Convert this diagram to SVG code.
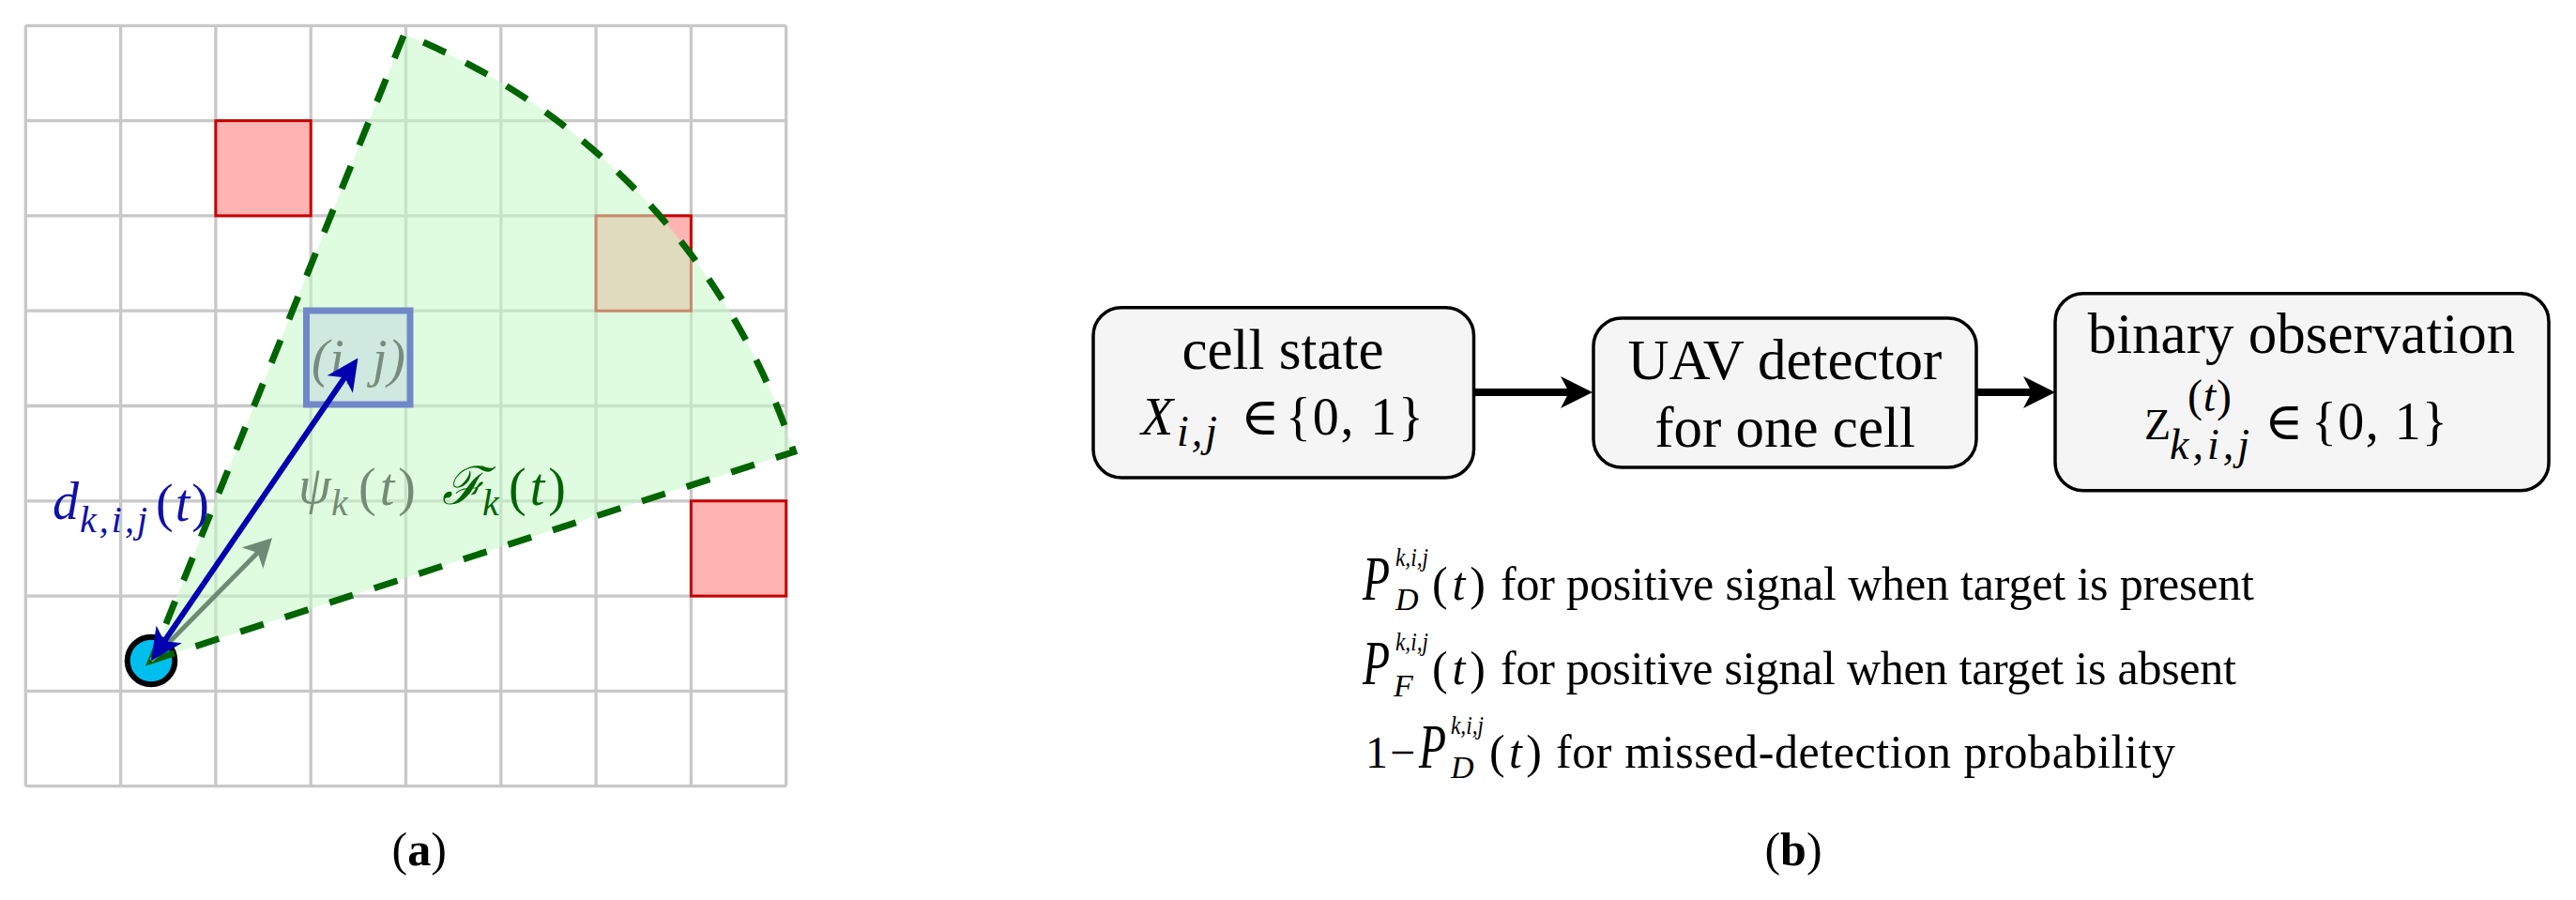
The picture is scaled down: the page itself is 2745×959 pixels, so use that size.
<svg xmlns="http://www.w3.org/2000/svg" width="2745" height="959" viewBox="0 0 2745 959">
  <style>
    .grid line { stroke: #c8c8c8; stroke-width: 3.3; }
    .red { fill: #ffb4b4; stroke: #c80000; stroke-width: 3; }
    .t { font-family: "Liberation Serif", "DejaVu Serif", serif; }
    .it { font-style: italic; }
    .box { fill: #f5f5f5; stroke: #000; stroke-width: 3.5; }
    .conn { stroke: #000; stroke-width: 8; fill: none; }
  </style>
  <defs>
    <marker id="arrBlack" markerUnits="userSpaceOnUse" viewBox="0 -17 34 34" markerWidth="34" markerHeight="34" refX="14" refY="0" orient="auto">
      <path d="M0,-17 L34,0 L0,17 L9,0 Z" fill="#000"/>
    </marker>
    <marker id="arrBlue" markerUnits="userSpaceOnUse" viewBox="0 -16.5 34 33" markerWidth="34" markerHeight="33" refX="14" refY="0" orient="auto-start-reverse">
      <path d="M0,-16.5 L34,0 L0,16.5 L9,0 Z" fill="#0000b0"/>
    </marker>
    <marker id="arrGray" markerUnits="userSpaceOnUse" viewBox="0 -16 30 32" markerWidth="30" markerHeight="32" refX="12" refY="0" orient="auto">
      <path d="M0,-16 L30,0 L0,16 L8,0 Z" fill="#6e8a74"/>
    </marker>
  </defs>
  <rect width="2745" height="959" fill="#fff"/>

  <!-- Panel (a) -->
  <g id="grid" class="grid">
    <line x1="27.3" y1="27.3" x2="27.3" y2="837.7"/>
    <line x1="128.6" y1="27.3" x2="128.6" y2="837.7"/>
    <line x1="229.9" y1="27.3" x2="229.9" y2="837.7"/>
    <line x1="331.2" y1="27.3" x2="331.2" y2="837.7"/>
    <line x1="432.5" y1="27.3" x2="432.5" y2="837.7"/>
    <line x1="533.8" y1="27.3" x2="533.8" y2="837.7"/>
    <line x1="635.1" y1="27.3" x2="635.1" y2="837.7"/>
    <line x1="736.4" y1="27.3" x2="736.4" y2="837.7"/>
    <line x1="837.7" y1="27.3" x2="837.7" y2="837.7"/>
    <line x1="27.3" y1="27.3" x2="837.7" y2="27.3"/>
    <line x1="27.3" y1="128.6" x2="837.7" y2="128.6"/>
    <line x1="27.3" y1="229.9" x2="837.7" y2="229.9"/>
    <line x1="27.3" y1="331.2" x2="837.7" y2="331.2"/>
    <line x1="27.3" y1="432.5" x2="837.7" y2="432.5"/>
    <line x1="27.3" y1="533.8" x2="837.7" y2="533.8"/>
    <line x1="27.3" y1="635.1" x2="837.7" y2="635.1"/>
    <line x1="27.3" y1="736.4" x2="837.7" y2="736.4"/>
    <line x1="27.3" y1="837.7" x2="837.7" y2="837.7"/>
  </g>
  <g id="targets">
    <rect class="red" x="229.9" y="128.6" width="101.3" height="101.3"/>
    <rect class="red" x="635.1" y="229.9" width="101.3" height="101.3"/>
    <rect class="red" x="736.4" y="533.8" width="101.3" height="101.3"/>
  </g>
  <g id="fov">
    <path d="M161,704 L845.8,481.5 A720,720 0 0 0 430.7,36.4 Z" fill="#c7fac7" fill-opacity="0.55"/>
  </g>
  <g id="cell-ij">
    <rect x="326.5" y="331" width="110.5" height="100" fill="#cfe8e0" stroke="#7088c8" stroke-width="7"/>
    <text class="t it" x="332" y="401" font-size="56" fill="#778c7c" textLength="100" lengthAdjust="spacing">(i, j)</text>
  </g>
  <g id="uav">
    <circle cx="161" cy="704" r="25.3" fill="#00bfef" stroke="#000" stroke-width="6"/>
  </g>
  <g id="fov-edge">
    <path d="M161,704 L845.8,481.5 A720,720 0 0 0 430.7,36.4 Z" fill="none" stroke="#006400" stroke-width="7" stroke-dasharray="26 24"/>
  </g>
  <g id="labels-a">
    <text class="t it" x="56" y="553" font-size="56" fill="#1010a8">d</text>
    <text class="t it" x="85" y="567" font-size="40" fill="#1010a8" textLength="72" lengthAdjust="spacing">k,i,j</text>
    <text class="t" x="166" y="555" font-size="56" fill="#1010a8" textLength="57" lengthAdjust="spacing">(<tspan class="it">t</tspan>)</text>

    <text class="t it" x="318" y="536" font-size="56" fill="#728c76">ψ</text>
    <text class="t it" x="353" y="549" font-size="40" fill="#728c76">k</text>
    <text class="t" x="382" y="538" font-size="56" fill="#728c76" textLength="61" lengthAdjust="spacing">(<tspan class="it">t</tspan>)</text>

    <text class="t it" x="471" y="537" font-size="56" fill="#006400">ℱ</text>
    <text class="t it" x="514" y="549" font-size="40" fill="#006400">k</text>
    <text class="t" x="542" y="538" font-size="56" fill="#006400" textLength="61" lengthAdjust="spacing">(<tspan class="it">t</tspan>)</text>
  </g>
  <g id="vectors">
    <line x1="161" y1="704" x2="277.4" y2="586.1" stroke="#6e8a74" stroke-width="5" marker-end="url(#arrGray)"/>
    <line x1="172.3" y1="687.5" x2="370.2" y2="398" stroke="#0000b0" stroke-width="6" marker-start="url(#arrBlue)" marker-end="url(#arrBlue)"/>
  </g>
  <text id="caption-a" class="t" x="446.7" y="922" font-size="50" text-anchor="middle">(<tspan font-weight="bold">a</tspan>)</text>

  <!-- Panel (b) -->
  <g id="node-cell-state">
    <rect class="box" x="1165" y="327.7" width="405.5" height="181.3" rx="30"/>
    <text class="t" x="1367" y="393" font-size="61" text-anchor="middle">cell state</text>
    <text class="t it" x="1216" y="463" font-size="56">X</text>
    <text class="t it" x="1254" y="475" font-size="46" textLength="43" lengthAdjust="spacing">i,j</text>
    <text class="t" x="1322" y="463" font-size="56">∈</text>
    <text class="t" x="1370" y="463" font-size="56" textLength="147" lengthAdjust="spacing">{0, 1}</text>
  </g>
  <g id="node-detector">
    <rect class="box" x="1698" y="339" width="408" height="159" rx="30"/>
    <text class="t" x="1902" y="404" font-size="61" text-anchor="middle">UAV detector</text>
    <text class="t" x="1902" y="476" font-size="61" text-anchor="middle">for one cell</text>
  </g>
  <g id="node-observation">
    <rect class="box" x="2190" y="312.7" width="526" height="210" rx="30"/>
    <text class="t" x="2452.5" y="376" font-size="61" text-anchor="middle">binary observation</text>
    <text class="t" x="2285" y="468" font-size="46">Z</text>
    <text class="t" x="2331" y="438" font-size="48" textLength="47" lengthAdjust="spacing">(<tspan class="it">t</tspan>)</text>
    <text class="t it" x="2312" y="489" font-size="46" textLength="85" lengthAdjust="spacing">k,i,j</text>
    <text class="t" x="2413" y="468" font-size="56">∈</text>
    <text class="t" x="2463" y="468" font-size="56" textLength="145" lengthAdjust="spacing">{0, 1}</text>
  </g>
  <g id="connectors">
    <line class="conn" x1="1571" y1="418" x2="1677" y2="418" marker-end="url(#arrBlack)"/>
    <line class="conn" x1="2106" y1="418" x2="2170" y2="418" marker-end="url(#arrBlack)"/>
  </g>
  <g id="legend">
    <text class="t it" transform="translate(1452,639) scale(0.7,1)" font-size="68">P</text>
    <text class="t it" x="1487" y="603" font-size="27" textLength="35" lengthAdjust="spacingAndGlyphs">k,i,j</text>
    <text class="t it" x="1487" y="650" font-size="34">D</text>
    <text class="t" x="1526" y="639" font-size="50" textLength="57" lengthAdjust="spacing">(<tspan class="it">t</tspan>)</text>
    <text class="t" x="1599" y="639" font-size="50" textLength="803" lengthAdjust="spacing">for positive signal when target is present</text>

    <text class="t it" transform="translate(1452,729) scale(0.7,1)" font-size="68">P</text>
    <text class="t it" x="1487" y="693" font-size="27" textLength="35" lengthAdjust="spacingAndGlyphs">k,i,j</text>
    <text class="t it" x="1485" y="742" font-size="34">F</text>
    <text class="t" x="1526" y="729" font-size="50" textLength="57" lengthAdjust="spacing">(<tspan class="it">t</tspan>)</text>
    <text class="t" x="1599" y="729" font-size="50" textLength="784" lengthAdjust="spacing">for positive signal when target is absent</text>

    <text class="t" x="1455" y="818" font-size="48">1</text>
    <text class="t" x="1481" y="818" font-size="48">−</text>
    <text class="t it" transform="translate(1512,818) scale(0.7,1)" font-size="68">P</text>
    <text class="t it" x="1546" y="782" font-size="27" textLength="35" lengthAdjust="spacingAndGlyphs">k,i,j</text>
    <text class="t it" x="1546" y="829" font-size="34">D</text>
    <text class="t" x="1587" y="818" font-size="50" textLength="56" lengthAdjust="spacing">(<tspan class="it">t</tspan>)</text>
    <text class="t" x="1658" y="818" font-size="50" textLength="660" lengthAdjust="spacing">for missed-detection probability</text>
  </g>
  <text id="caption-b" class="t" x="1911" y="922" font-size="50" text-anchor="middle">(<tspan font-weight="bold">b</tspan>)</text>
</svg>
